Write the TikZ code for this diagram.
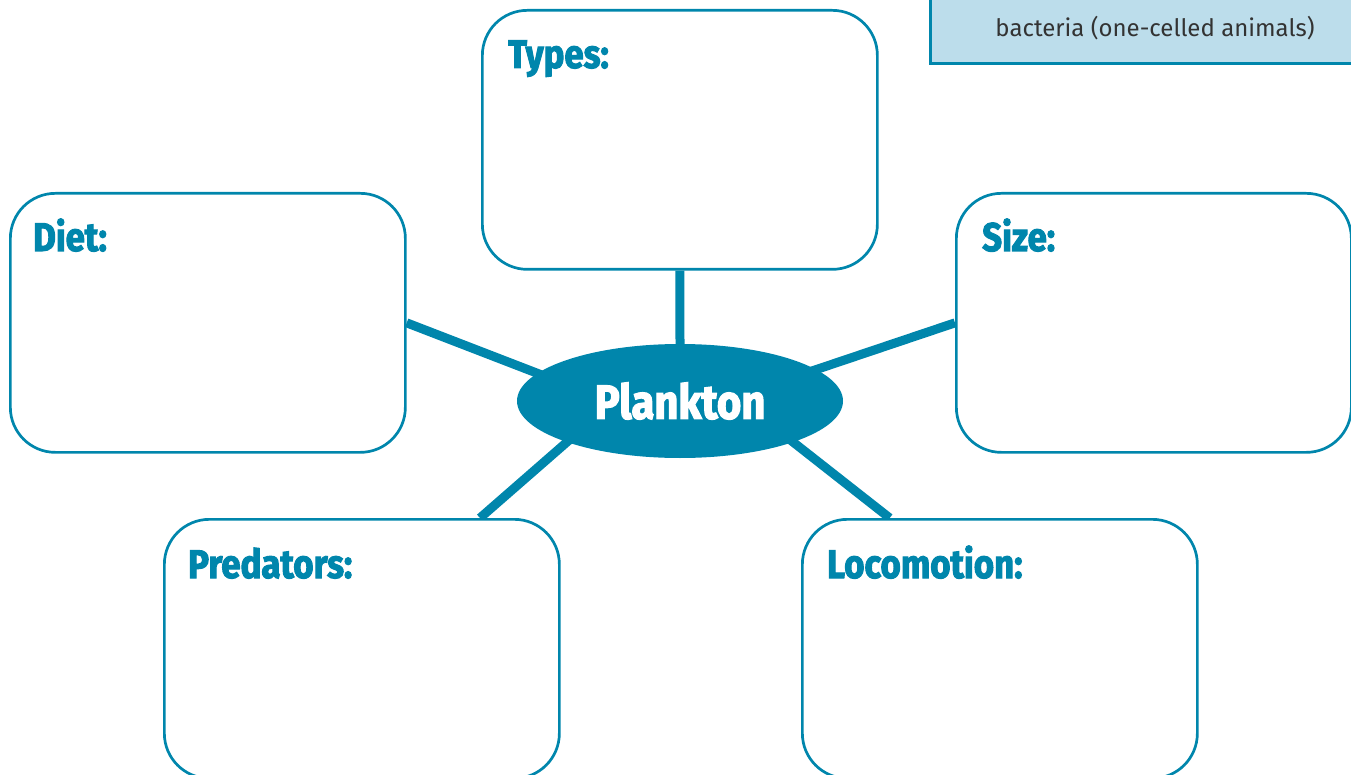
\documentclass[tikz,border=0pt]{standalone}
\usepackage{fontspec}
\usetikzlibrary{shapes.geometric,calc,backgrounds}
\newfontfamily\hdfont[FakeStretch=0.87,FakeBold=2.5]{Fira Sans}
\newfontfamily\txfont{Fira Sans}
\definecolor{pblue}{HTML}{0086AC}
\definecolor{pfill}{HTML}{BCDDEB}
\definecolor{ptext}{HTML}{333333}
\begin{document}
\begin{tikzpicture}[x=1pt,y=-1pt,
  card/.style={draw=pblue,line width=2.7pt,rounded corners=45pt,fill=white,
    minimum width=395pt,minimum height=259pt,inner sep=0pt,anchor=north west},
  head/.style={anchor=base west,inner sep=0pt,text=pblue,
    font=\hdfont\bfseries\fontsize{40}{40}\selectfont},
  spoke/.style={draw=pblue,line width=9pt,shorten >=-25pt}]
\useasboundingbox (0,0) rectangle (1351,775);
\clip (0,0) rectangle (1351,775);
% note box at top right (cut off)
\node[draw=pblue,line width=3pt,fill=pfill,minimum width=460pt,minimum height=122pt,
  inner sep=0pt,anchor=north west] (note) at (929,-60) {};
\node[anchor=base,inner sep=0pt,text=ptext,font=\txfont\fontsize{24}{24}\selectfont]
  (notetext) at (1155,37) {bacteria (one-celled animals)};
% cards
\node[card] (types) at (481,9) {};
\node[card] (diet) at (9,192) {};
\node[card] (size) at (955,192) {};
\node[card] (pred) at (163,518) {};
\node[card] (loco) at (801,518) {};
\node[head] (typesh) at ($(types.north west)+(27,59)$) {Types:};
\node[head] (dieth) at ($(diet.north west)+(24,59)$) {Diet:};
\node[head] (sizeh) at ($(size.north west)+(27,59)$) {Size:};
\node[head] (predh) at ($(pred.north west)+(25,60)$) {Predators:};
\node[head] (locoh) at ($(loco.north west)+(26,60)$) {Locomotion:};
% center
\node[ellipse,fill=pblue,minimum width=326pt,minimum height=114pt,inner sep=0pt,
  text=white,font=\hdfont\bfseries\fontsize{48}{48}\selectfont] (pl) at (680,401) {Plankton};
\coordinate (predtop) at ($(pred.north west)!0.797!(pred.north east)$);
\coordinate (locotop) at ($(loco.north west)!0.223!(loco.north east)$);
\begin{scope}[on background layer]
  \draw[spoke] (types.south) -- (pl.north);
  \draw[spoke] (diet.east) -- (pl.169);
  \draw[spoke] (size.west) -- (pl.13);
  \draw[spoke] (predtop) -- (pl.200);
  \draw[spoke] (locotop) -- (pl.340);
\end{scope}
\end{tikzpicture}
\end{document}
